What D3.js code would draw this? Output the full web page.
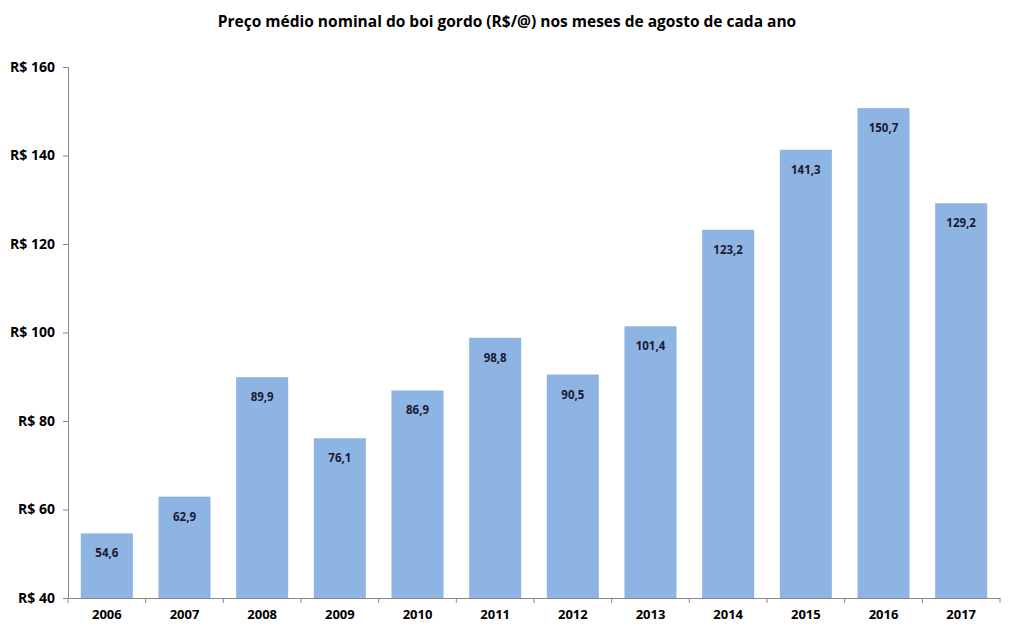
<!DOCTYPE html>
<html>
<head>
<meta charset="utf-8">
<script src="https://cdn.jsdelivr.net/npm/d3@7"></script>
<style>
  body { margin: 0; background: #fff; }
  svg text { font-family: "Open Sans", "Noto Sans", sans-serif; }
</style>
</head>
<body>
<svg id="chart"></svg>
<script>
var years = ["2006", "2007", "2008", "2009", "2010", "2011", "2012", "2013", "2014", "2015", "2016", "2017"];
var prices = [54.6, 62.9, 89.9, 76.1, 86.9, 98.8, 90.5, 101.4, 123.2, 141.3, 150.7, 129.2];
var yTicks = [40, 60, 80, 100, 120, 140, 160];

var width = 1013, height = 632;
var margin = { top: 67, right: 13, bottom: 34, left: 68 };

var svg = d3.select("#chart")
    .attr("width", width)
    .attr("height", height);

var xScale = d3.scaleBand()
    .domain(years)
    .range([margin.left, width - margin.right])
    .paddingInner(0.33)
    .paddingOuter(0.165);

var yScale = d3.scaleLinear()
    .domain([40, 160])
    .range([height - margin.bottom, margin.top]);

// title
svg.append("text")
    .attr("x", 507)
    .attr("y", 27)
    .attr("text-anchor", "middle")
    .attr("font-size", 15.5)
    .attr("font-weight", "bold")
    .attr("fill", "#000")
    .text("Preço médio nominal do boi gordo (R$/@) nos meses de agosto de cada ano");

// bars
svg.selectAll(".bar")
    .data(prices)
    .enter()
    .append("rect")
    .attr("class", "bar")
    .attr("x", function (d, i) { return xScale(years[i]); })
    .attr("y", function (d) { return yScale(d); })
    .attr("width", xScale.bandwidth())
    .attr("height", function (d) { return yScale(40) - yScale(d); })
    .attr("fill", "#8eb4e3");

// value labels
svg.selectAll(".val")
    .data(prices)
    .enter()
    .append("text")
    .attr("class", "val")
    .attr("x", function (d, i) { return xScale(years[i]) + xScale.bandwidth() / 2; })
    .attr("y", function (d) { return yScale(d) + 24; })
    .attr("text-anchor", "middle")
    .attr("font-size", 11.5)
    .attr("font-weight", "bold")
    .attr("fill", "#1a1a33")
    .text(function (d) { return d.toFixed(1).replace(".", ","); });

// y axis
var yAxis = svg.append("g")
    .attr("transform", "translate(" + margin.left + ",0)")
    .call(d3.axisLeft(yScale)
        .tickValues(yTicks)
        .tickSizeOuter(0)
        .tickSize(5)
        .tickPadding(8)
        .tickFormat(function (d) { return "R$ " + d; }));

yAxis.selectAll("text")
    .attr("font-size", 14)
    .attr("font-weight", "bold")
    .attr("fill", "#000");

// x axis
var xAxis = svg.append("g")
    .attr("transform", "translate(0," + yScale(40) + ")")
    .call(d3.axisBottom(xScale).tickSize(0).tickPadding(12));

xAxis.selectAll("text")
    .attr("font-size", 13)
    .attr("font-weight", "bold")
    .attr("fill", "#000");

// tick marks at category boundaries
var step = xScale.step();
var bounds = d3.range(years.length + 1).map(function (i) { return margin.left + i * step; });
xAxis.selectAll(".bound")
    .data(bounds)
    .enter()
    .append("line")
    .attr("class", "bound")
    .attr("x1", function (d) { return d; })
    .attr("x2", function (d) { return d; })
    .attr("y1", 0)
    .attr("y2", 5)
    .attr("stroke", "#888");

svg.selectAll(".domain").attr("stroke", "#888");
svg.selectAll(".tick line").attr("stroke", "#888");
</script>
</body>
</html>
